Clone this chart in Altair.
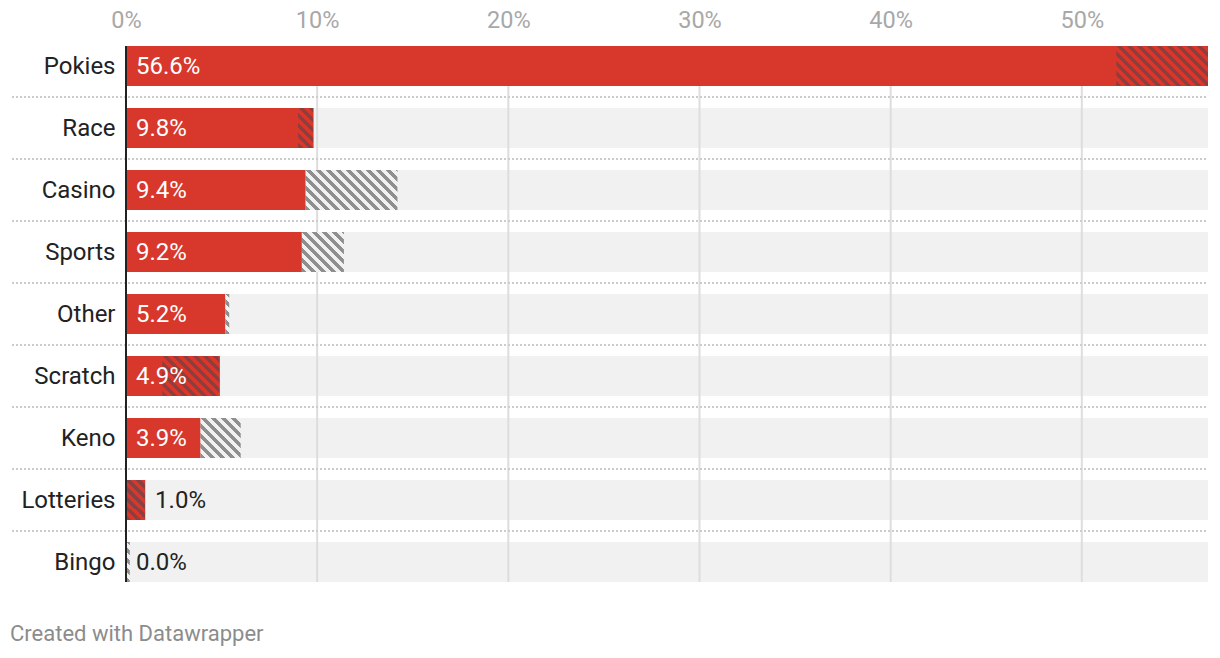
import altair as alt
import pandas as pd

categories = ["Pokies", "Race", "Casino", "Sports", "Other", "Scratch", "Keno", "Lotteries", "Bingo"]
values = [56.6, 9.8, 9.4, 9.2, 5.2, 4.9, 3.9, 1.0, 0.0]
previous = [51.8, 9.0, 14.2, 11.4, 5.4, 1.9, 6.0, 0.0, 0.2]
tick_values = [0, 10, 20, 30, 40, 50]

FONT = "Roboto"
RED = "#d8372b"
BG = "#f1f1f1"
PLOT_W = 1082
PLOT_H = 558
BAR_H = 40
X_MAX = max(values)
PX_PER_UNIT = PLOT_W / X_MAX

df = pd.DataFrame({"cat": categories, "value": values, "prev": previous})
df["zero"] = 0.0
df["lo"] = df[["value", "prev"]].min(axis=1)
df["hi"] = df[["value", "prev"]].max(axis=1)
df["full"] = X_MAX
df["inside"] = df["value"] > 3
df["label"] = df["value"].map(lambda v: f"{v:.1f}%")
df["label_x"] = df.apply(lambda r: 0.0 if r["inside"] else r["value"], axis=1)

y_scale = alt.Scale(domain=categories, paddingInner=22 / 62, paddingOuter=11 / 62)
x_scale = alt.Scale(domain=[0, X_MAX], nice=False, zero=True)


def hatch_gradient(width_px, height_px, stripe, gap, period=10.0):
    W = max(width_px, 0.5)
    H = float(height_px)
    s = (W + H) / (W * W + H * H)
    span = W + H
    stops = []
    k = 0
    while k * period < span:
        a = k * period / span
        b = min((k + 0.5) * period / span, 1.0)
        c = min((k + 1) * period / span, 1.0)
        stops += [
            {"offset": a, "color": stripe},
            {"offset": b, "color": stripe},
            {"offset": b, "color": gap},
            {"offset": c, "color": gap},
        ]
        k += 1
    return {
        "gradient": "linear",
        "x1": 0,
        "y1": 1,
        "x2": s * W,
        "y2": 1 - s * H,
        "stops": stops,
    }


y_axis = alt.Axis(
    title=None, domain=False, ticks=False, labelFont=FONT, labelFontSize=24,
    labelColor="#222222", labelPadding=11, grid=False, labelOffset=1,
)
x_axis = alt.Axis(
    title=None, orient="top", values=tick_values, labelExpr="datum.value + '%'",
    grid=False, ticks=False, tickSize=0, domain=False, labelColor="#a8a8a8",
    labelFontSize=23.5, labelFont=FONT, labelPadding=3, labelFlush=False,
)


def yenc():
    return alt.Y("cat:N", sort=categories, scale=y_scale, axis=y_axis)


def xenc(field):
    return alt.X(field, scale=x_scale, axis=x_axis)


base = alt.Chart(df)

background = base.mark_bar(color=BG).encode(
    y=yenc(),
    x=xenc("zero:Q"),
    x2="full:Q",
)

sep_df = pd.DataFrame({"cat": categories[:-1]})
separators = alt.Chart(sep_df).mark_rule(
    color="#cccccc", strokeWidth=2, strokeDash=[2, 2], yOffset=31
).encode(
    y=yenc(),
    x=alt.value(-114),
    x2=alt.value(PLOT_W),
)

grid_df = pd.DataFrame({"t": tick_values[1:]})
grid = alt.Chart(grid_df).mark_rule(color="#dddddd", strokeWidth=2).encode(
    x=xenc("t:Q"),
    y=alt.value(11),
    y2=alt.value(11 + 536),
)

red_bars = base.mark_bar(color=RED).encode(
    y=yenc(),
    x=xenc("zero:Q"),
    x2="value:Q",
)

hatch_layers = []
for cat, v, p in zip(categories, values, previous):
    if v == p:
        continue
    width_px = abs(v - p) * PX_PER_UNIT
    if p < v:
        grad = hatch_gradient(width_px, BAR_H, "#8a4040", RED)
    else:
        grad = hatch_gradient(width_px, BAR_H, "#8f8f8f", BG)
    layer = base.transform_filter(alt.datum.cat == cat).mark_bar(fill=grad).encode(
        y=yenc(),
        x=xenc("lo:Q"),
        x2="hi:Q",
    )
    hatch_layers.append(layer)

zero_df = pd.DataFrame({"z": [0.0]})
zero_line = alt.Chart(zero_df).mark_rule(color="#222222", strokeWidth=2).encode(
    x=xenc("z:Q"),
    y=alt.value(11),
    y2=alt.value(11 + 536),
)

labels = base.mark_text(
    font=FONT, fontSize=24, align="left", baseline="middle", dx=10, dy=1
).encode(
    y=yenc(),
    x=xenc("label_x:Q"),
    text="label:N",
    color=alt.condition("datum.inside", alt.value("#ffffff"), alt.value("#222222")),
)

credit = alt.Chart(pd.DataFrame({"t": ["Created with Datawrapper"]})).mark_text(
    font=FONT, fontSize=22, align="left", baseline="middle", color="#8c8c8c"
).encode(
    x=alt.value(-116),
    y=alt.value(599),
    text="t:N",
)

chart = alt.layer(
    background, grid, separators, red_bars, *hatch_layers, zero_line, labels, credit
).properties(
    width=PLOT_W,
    height=PLOT_H,
    padding={"left": 126, "top": 35, "right": 12, "bottom": 65},
    autosize=alt.AutoSizeParams(type="none"),
    background="#ffffff",
).configure_view(stroke=None)

chart.save("out.html", embed_options={"renderer": "svg", "actions": False})
